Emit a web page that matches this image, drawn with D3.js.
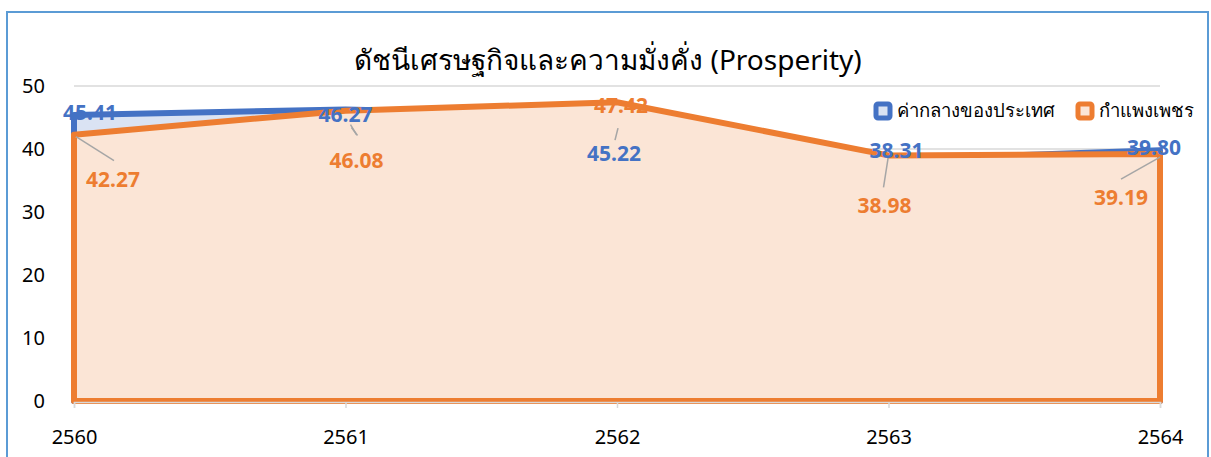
<!doctype html>
<html>
<head>
<meta charset="utf-8">
<style>
  body {
    margin: 0;
    background-color: white;
    font-family: Tahoma, "Noto Sans", "DejaVu Sans", sans-serif;
  }
  .frame {
    fill: white;
    stroke: #5b9bd5;
    stroke-width: 2;
  }
  .grid line {
    stroke: #d9d9d9;
    stroke-width: 1.5;
  }
  .lbl {
    font-weight: bold;
    font-size: 21px;
    text-anchor: middle;
  }
  .leader {
    stroke: #a6a6a6;
    stroke-width: 1.5;
  }
</style>
<script src="https://d3js.org/d3.v7.min.js"></script>
</head>
<body>
<script>

  // data
  var years = ["2560", "2561", "2562", "2563", "2564"];
  var nation = [45.41, 46.27, 45.22, 38.31, 39.80];
  var kamphaeng = [42.27, 46.08, 47.42, 38.98, 39.19];
  var yTicks = [0, 10, 20, 30, 40, 50];
  var seriesNames = ["ค่ากลางของประเทศ", "กำแพงเพชร"];
  var title = "ดัชนีเศรษฐกิจและความมั่งคั่ง (Prosperity)";

  // label offsets (px) from the point, and where the leader line starts/ends
  var nationLbl = [[16, -2, null], [0, 6, [6, 18, 12, 26]], [-3, 38, [1, 12, -2, 24]], [8, -9, null], [-6, -2, null]];
  var kampLbl = [[39, 45, [2, 2, 40, 26]], [11, 50, [5, 14, 11, 24]], [4, 4, null], [-4, 51, [0, 0, -5, 32]], [-39, 44, [0, 3, -39, 25]]];

  var svg_width = 1211;
  var svg_height = 457;
  var plotLeft = 74, plotRight = 1160, plotTop = 86, plotBottom = 401;

  var svg = d3.select("body")
              .append("svg")
              .attr("width", svg_width)
              .attr("height", svg_height);

  svg.append("rect")
    .attr("class", "frame")
    .attr("x", 7)
    .attr("y", 12)
    .attr("width", 1201)
    .attr("height", 470);

  var xScale = d3.scalePoint().domain(years).range([plotLeft, plotRight]);
  var yScale = d3.scaleLinear().domain([0, 50]).range([plotBottom, plotTop]);

  svg.append("text")
    .attr("x", 608)
    .attr("y", 70)
    .attr("text-anchor", "middle")
    .attr("font-size", "28px")
    .attr("fill", "#000")
    .text(title);

  // gridlines
  svg.append("g")
    .attr("class", "grid")
    .selectAll("line")
    .data(yTicks.slice(1))
    .enter().append("line")
    .attr("x1", plotLeft)
    .attr("x2", plotRight)
    .attr("y1", function(d) { return yScale(d); })
    .attr("y2", function(d) { return yScale(d); });

  // y labels
  svg.append("g")
    .selectAll("text")
    .data(yTicks)
    .enter().append("text")
    .attr("x", 45)
    .attr("y", function(d) { return yScale(d) + 7; })
    .attr("text-anchor", "end")
    .attr("font-size", "20px")
    .text(function(d) { return d; });

  var area = function(vals) {
    return d3.area()
      .x(function(d, i) { return xScale(years[i]); })
      .y0(yScale(0))
      .y1(function(d) { return yScale(d); })(vals);
  };

  svg.append("path")
    .attr("d", area(nation) + "Z")
    .attr("fill", "#dae3f3")
    .attr("stroke", "#4472c4")
    .attr("stroke-width", 6)
    .attr("stroke-linejoin", "round");

  svg.append("path")
    .attr("d", area(kamphaeng) + "Z")
    .attr("fill", "#fbe5d6")
    .attr("stroke", "#ed7d31")
    .attr("stroke-width", 6)
    .attr("stroke-linejoin", "round");

  // x axis
  var xAxis = svg.append("g")
    .attr("transform", "translate(0," + (plotBottom + 1) + ")")
    .call(d3.axisBottom(xScale).tickSize(6).tickPadding(22));
  xAxis.select(".domain").attr("stroke", "#d9d9d9").attr("stroke-width", 1.5);
  xAxis.selectAll(".tick line").attr("stroke", "#d9d9d9").attr("stroke-width", 1.5);
  xAxis.selectAll(".tick text")
    .attr("font-size", "20px")
    .attr("font-family", "Tahoma, 'Noto Sans', 'DejaVu Sans', sans-serif")
    .attr("fill", "#000");

  // data labels
  function labels(vals, offs, color) {
    var g = svg.append("g");
    vals.forEach(function(v, i) {
      var px = xScale(years[i]), py = yScale(v);
      var o = offs[i];
      if (o[2]) {
        g.append("line")
          .attr("class", "leader")
          .attr("x1", px + o[2][0]).attr("y1", py + o[2][1])
          .attr("x2", px + o[2][2]).attr("y2", py + o[2][3]);
      }
      g.append("text")
        .attr("class", "lbl")
        .attr("x", px + o[0])
        .attr("y", py + o[1] + 7)
        .attr("fill", color)
        .text(v.toFixed(2));
    });
  }
  labels(kamphaeng, kampLbl, "#ed7d31");
  labels(nation, nationLbl, "#4472c4");

  // legend
  var legendX = [876, 1078];
  var colors = [["#4472c4", "#dae3f3"], ["#ed7d31", "#fbe5d6"]];
  seriesNames.forEach(function(name, i) {
    svg.append("rect")
      .attr("x", legendX[i])
      .attr("y", 104)
      .attr("width", 14)
      .attr("height", 14)
      .attr("rx", 2)
      .attr("fill", colors[i][1])
      .attr("stroke", colors[i][0])
      .attr("stroke-width", 5);
    svg.append("text")
      .attr("x", legendX[i] + 21)
      .attr("y", 117)
      .attr("font-size", "18.5px")
      .text(name);
  });

</script>
</body>
</html>
